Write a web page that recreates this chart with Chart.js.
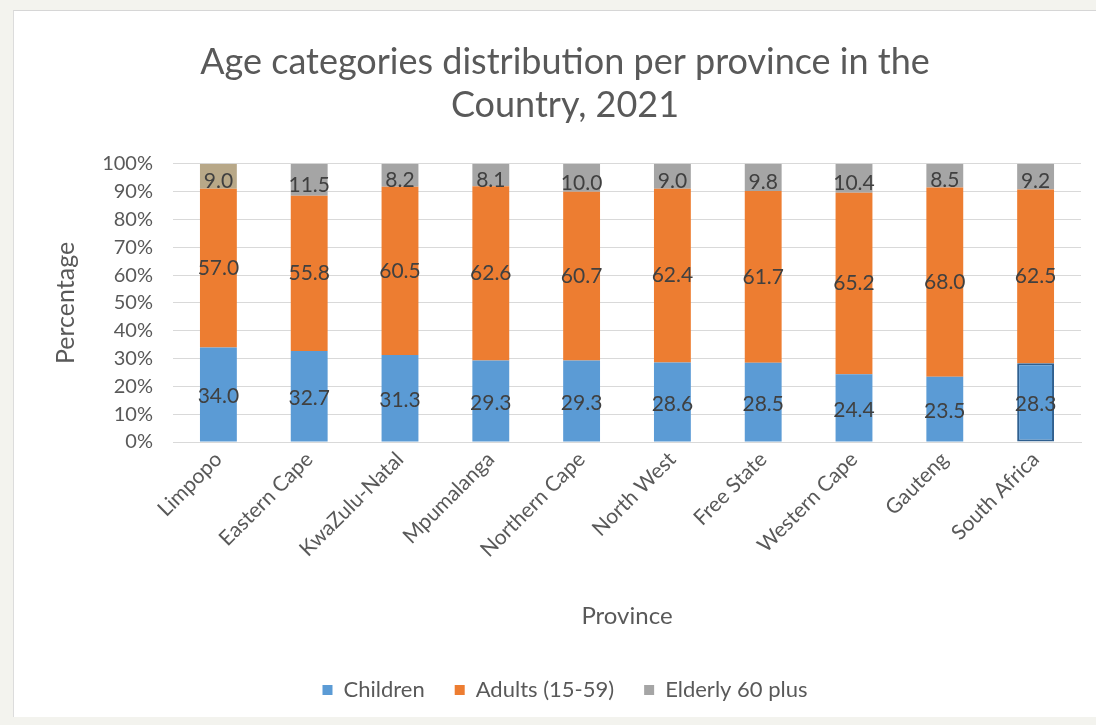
<!DOCTYPE html>
<html>
<head>
<meta charset="utf-8">
<script src="https://cdn.jsdelivr.net/npm/chart.js@4.4.1/dist/chart.umd.min.js"></script>
<style>
  html, body { margin: 0; padding: 0; }
  body { width: 1096px; height: 725px; background: #f3f3ee; position: relative; overflow: hidden; }
  .box { position: absolute; left: 13px; top: 10px; width: 1083px; height: 707px; background: #ffffff;
         border-top: 1px solid #d6d6d6; border-left: 1px solid #dcdcdc; box-sizing: border-box; }
  canvas { position: absolute; left: 0; top: 0; }
</style>
</head>
<body>
<div class="box"><canvas id="chart" width="1082" height="706"></canvas></div>
<script>
// Share of each age group per province, 2021 (percent)
const categories = ['Limpopo', 'Eastern Cape', 'KwaZulu-Natal', 'Mpumalanga', 'Northern Cape',
                    'North West', 'Free State', 'Western Cape', 'Gauteng', 'South Africa'];
const children = [34.0, 32.7, 31.3, 29.3, 29.3, 28.6, 28.5, 24.4, 23.5, 28.3];
const adults   = [57.0, 55.8, 60.5, 62.6, 60.7, 62.4, 61.7, 65.2, 68.0, 62.5];
const elderly  = [9.0, 11.5, 8.2, 8.1, 10.0, 9.0, 9.8, 10.4, 8.5, 9.2];
const seriesNames = ['Children', 'Adults (15-59)', 'Elderly 60 plus'];
const seriesColors = ['#5b9bd5', '#ed7d31', '#a5a5a5'];
const yTicks = [0, 10, 20, 30, 40, 50, 60, 70, 80, 90, 100];

const FONT = 'Lato, "Open Sans", sans-serif';
const TEXT = '#595959';

// Writes each segment's value in the middle of its bar piece
const labelNudge = [2, 0, 5];
const segmentLabels = {
  id: 'segmentLabels',
  afterDatasetsDraw(chart) {
    const ctx = chart.ctx;
    ctx.save();
    ctx.font = '21px ' + FONT;
    ctx.fillStyle = '#404040';
    ctx.textAlign = 'center';
    ctx.textBaseline = 'middle';
    chart.data.datasets.forEach((ds, di) => {
      const meta = chart.getDatasetMeta(di);
      meta.data.forEach((bar, i) => {
        const yMid = (bar.y + bar.base) / 2;
        ctx.fillText(Number(ds.data[i]).toFixed(1), bar.x, yMid + labelNudge[di]);
      });
    });
    ctx.restore();
  }
};

new Chart(document.getElementById('chart'), {
  type: 'bar',
  data: {
    labels: categories,
    datasets: [
      { label: seriesNames[0], data: children, backgroundColor: seriesColors[0],
        borderColor: '#2f5f8f', borderWidth: categories.map((c, i) => i === categories.length - 1 ? 2 : 0),
        borderSkipped: false },
      { label: seriesNames[1], data: adults, backgroundColor: seriesColors[1], borderWidth: 0 },
      { label: seriesNames[2], data: elderly,
        backgroundColor: categories.map((c, i) => i === 0 ? '#b8a888' : seriesColors[2]), borderWidth: 0 }
    ]
  },
  options: {
    responsive: false,
    animation: false,
    devicePixelRatio: 1,
    layout: { padding: { left: 35, right: 15, top: 0, bottom: 6 } },
    datasets: { bar: { barPercentage: 0.406, categoryPercentage: 1.0 } },
    scales: {
      x: {
        stacked: true,
        grid: { display: false, drawTicks: false },
        border: { display: true, color: '#d9d9d9' },
        ticks: { color: TEXT, font: { family: FONT, size: 21 }, minRotation: 45, maxRotation: 45,
                 autoSkip: false, padding: 5 },
        title: { display: true, text: 'Province', color: TEXT, font: { family: FONT, size: 24 },
                 padding: { top: 0, bottom: 18 } },
        afterFit(scale) { scale.height = 207; }
      },
      y: {
        stacked: true,
        min: 0, max: 100,
        afterBuildTicks(scale) { scale.ticks = yTicks.map(v => ({ value: v })); },
        grid: { color: '#d9d9d9', drawTicks: false },
        border: { display: false },
        ticks: { color: TEXT, font: { family: FONT, size: 20 }, padding: 20, autoSkip: false,
                 callback: v => v + '%' },
        title: { display: true, text: 'Percentage', color: TEXT, font: { family: FONT, size: 25 },
                 padding: { top: 2, bottom: 0 } },
        afterFit(scale) { scale.width = 124; }
      }
    },
    plugins: {
      title: {
        display: true,
        text: ['Age categories distribution per province in the', 'Country, 2021'],
        color: TEXT,
        font: { family: FONT, size: 36, weight: 'normal', lineHeight: 1.22 },
        padding: { top: 29, bottom: 36 }
      },
      legend: {
        position: 'bottom',
        labels: {
          color: TEXT, font: { family: FONT, size: 22 }, boxWidth: 10, boxHeight: 10, padding: 30,
          generateLabels(chart) {
            return chart.data.datasets.map((ds, i) => ({
              text: ds.label, fillStyle: seriesColors[i], strokeStyle: seriesColors[i],
              lineWidth: 0, hidden: false, datasetIndex: i, fontColor: TEXT
            }));
          }
        }
      },
      tooltip: { enabled: false }
    }
  },
  plugins: [segmentLabels]
});
</script>
</body>
</html>
